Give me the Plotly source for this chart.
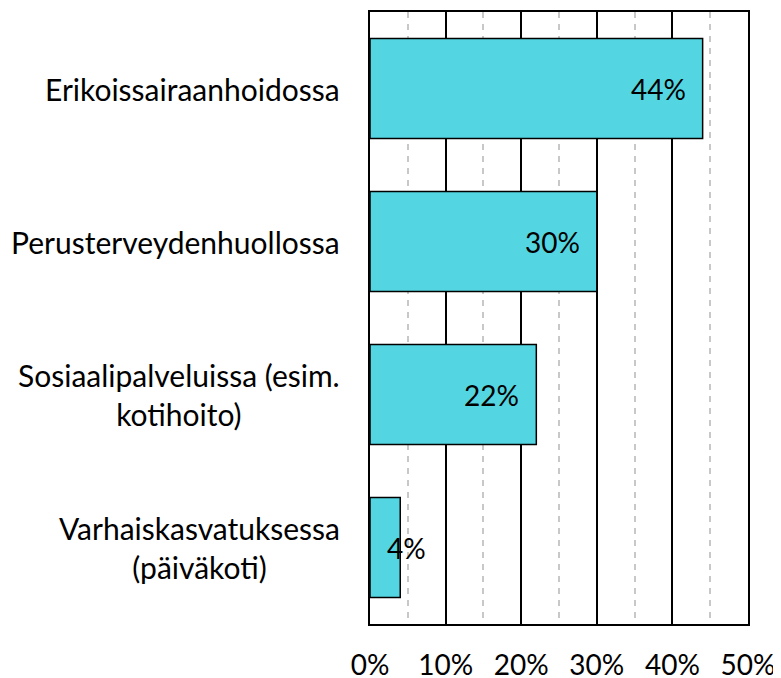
import plotly.graph_objects as go

categories = ["Erikoissairaanhoidossa", "Perusterveydenhuollossa",
              "Sosiaalipalveluissa (esim.<br>kotihoito)", "Varhaiskasvatuksessa<br>(päiväkoti)"]
values = [44, 30, 22, 4]
value_labels = ["44%", "30%", "22%", "4%"]
tick_vals = [0, 10, 20, 30, 40, 50]
tick_labels = ["0%", "10%", "20%", "30%", "40%", "50%"]

FONT = "Lato"
FS_CAT = 30
FS_NUM = 28

fig = go.Figure()
fig.add_trace(go.Bar(
    y=categories, x=values, orientation="h",
    marker=dict(color="#53D6E2", line=dict(color="black", width=1.5)),
    hoverinfo="skip",
))

annotations = []
for c, v, t in zip(categories, values, value_labels):
    if v >= 10:
        annotations.append(dict(x=v, y=c, xref="x", yref="y", text=t, showarrow=False,
                                xanchor="right", xshift=-15, font=dict(family=FONT, size=FS_NUM, color="black")))
    else:
        annotations.append(dict(x=0, y=c, xref="x", yref="y", text=t, showarrow=False,
                                xanchor="left", xshift=15, font=dict(family=FONT, size=FS_NUM, color="black")))
for c in categories:
    annotations.append(dict(x=0, y=c, xref="paper", yref="y", text=c, showarrow=False,
                            xanchor="right", xshift=-28, align="center",
                            font=dict(family=FONT, size=FS_CAT, color="black")))

# page body has an 8px margin, so the figure is made 8px smaller on each axis
fig.update_layout(
    width=773, height=670,
    margin=dict(l=362, r=33, t=4, b=54, autoexpand=False),
    paper_bgcolor="white", plot_bgcolor="white",
    showlegend=False,
    bargap=0.345,
    font=dict(family=FONT, size=FS_NUM, color="black"),
    annotations=annotations,
    xaxis=dict(
        range=[0, 50], tickvals=tick_vals, ticktext=tick_labels,
        showgrid=True, gridcolor="black", gridwidth=1.5,
        showline=True, linecolor="black", linewidth=2, mirror=True,
        ticks="", ticklabelstandoff=15, zeroline=False, automargin=False,
        tickfont=dict(family=FONT, size=FS_NUM, color="black"),
        minor=dict(dtick=5, tick0=0, showgrid=True, gridcolor="#c8c8c8", gridwidth=1.5, griddash="6px,6px"),
    ),
    yaxis=dict(
        autorange="reversed", showticklabels=False, showgrid=False, automargin=False,
        showline=True, linecolor="black", linewidth=2, mirror=True, ticks="",
    ),
)
fig.write_html("out.html")
